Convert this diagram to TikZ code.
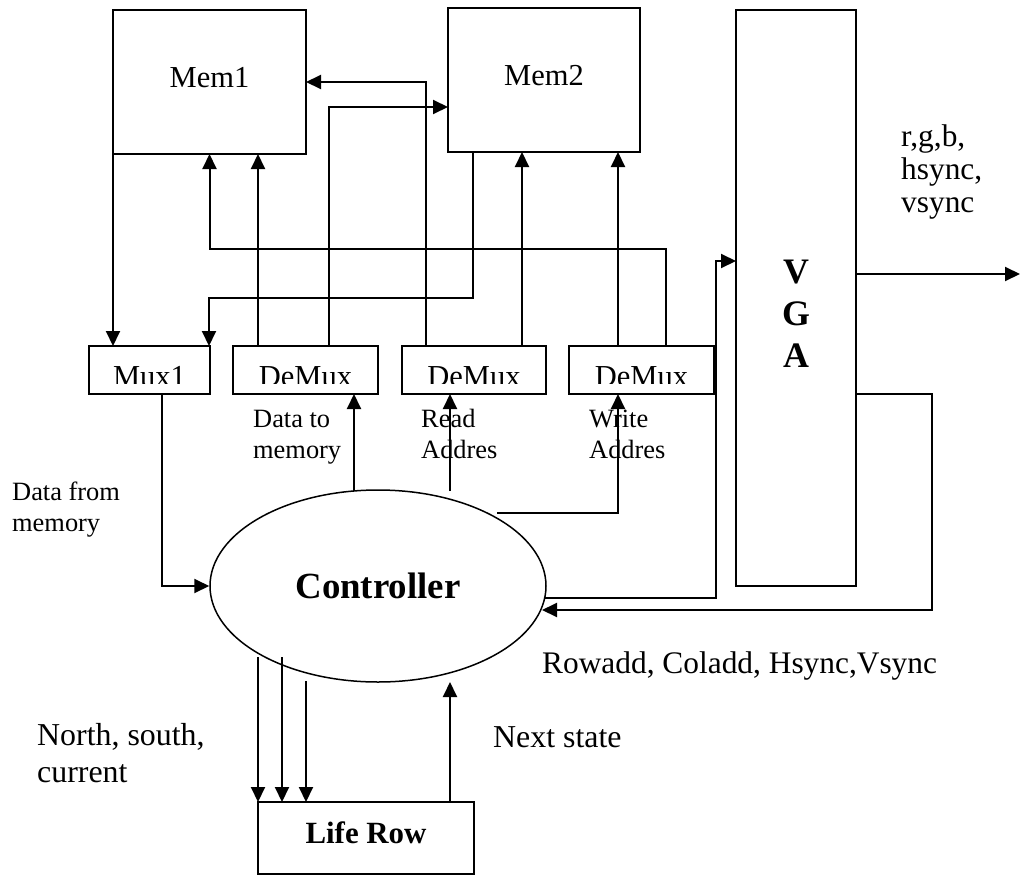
\documentclass[tikz,border=0pt]{standalone}
\usepackage{fontspec}
\setmainfont{Liberation Serif}
\usetikzlibrary{arrows.meta,shapes.geometric}
\begin{document}
\begin{tikzpicture}[x=1bp,y=-1bp,
 box/.style={draw,line width=2bp,rectangle,inner sep=0pt,outer sep=0pt},
 arr/.style={-{Triangle[length=15bp,width=14bp]}},
 wire/.style={line width=2bp},
 lbl/.style={inner sep=0pt,anchor=base west,font=\fontsize{31.5}{31.5}\selectfont},
 slbl/.style={inner sep=0pt,anchor=base west,font=\fontsize{26.5}{26.5}\selectfont},
 blbl/.style={inner sep=0pt,anchor=base,font=\fontsize{30.6}{30.6}\selectfont},
 bold/.style={inner sep=0pt,anchor=base,font=\fontsize{#1}{#1}\selectfont\bfseries},
]
\useasboundingbox (0,0) rectangle (1021,878);

% boxes
\node[box,minimum width=193bp,minimum height=144bp] (mem1) at (209.5,82) {};
\node[box,minimum width=192bp,minimum height=144bp] (mem2) at (544,80) {};
\node[box,minimum width=120bp,minimum height=576bp] (vga) at (796,298) {};
\node[box,minimum width=121bp,minimum height=48bp] (mux1) at (149.5,370) {};
\node[box,minimum width=145bp,minimum height=48bp] (dma) at (305.5,370) {};
\node[box,minimum width=144bp,minimum height=48bp] (dmb) at (474,370) {};
\node[box,minimum width=145bp,minimum height=48bp] (dmc) at (641.5,370) {};
\node[box,minimum width=216bp,minimum height=72bp] (life) at (366,838) {};
\node[draw,ellipse,line width=1.5bp,inner sep=0pt,minimum width=336bp,minimum height=192bp] (ctrl) at (378,586) {};

% box texts
\node[blbl] (tmem1) at (209.5,87) {Mem1};
\node[blbl] (tmem2) at (544,85) {Mem2};
\begin{scope}
\clip (80,340) rectangle (720,383.5);
\node[blbl] (tmux) at (149.5,386) {Mux1};
\node[blbl] (tdma) at (305.5,386) {DeMux};
\node[blbl] (tdmb) at (474,386) {DeMux};
\node[blbl] (tdmc) at (641.5,386) {DeMux};
\end{scope}
\node[bold=36] (tv) at (796,283) {V};
\node[bold=36] (tg) at (796,325) {G};
\node[bold=36] (ta) at (796,367) {A};
\node[bold=37] (tctrl) at (378,598) {Controller};
\node[bold=31] (tlife) at (366,843) {Life Row};

% connectors between memories and mux/demux
\draw[wire,arr] (mem1.south west) -- (mem1.south west |- mux1.north);
\draw[wire,arr] (666,0 |- dmc.north) |- (209.5,249) -- (mem1.south);
\draw[wire,arr] (258,0 |- dma.north) -- (258,0 |- mem1.south);
\draw[wire,arr] (473,0 |- mem2.south) |- (209,298) -- (209,0 |- mux1.north);
\draw[wire,arr] (329,0 |- dma.north) |- (mem2.west |- 0,107);
\draw[wire,arr] (426,0 |- dmb.north) |- (mem1.east);
\draw[wire,arr] (522,0 |- dmb.north) -- (522,0 |- mem2.south);
\draw[wire,arr] (618,0 |- dmc.north) -- (618,0 |- mem2.south);

% controller connections
\draw[wire,arr] (162,0 |- mux1.south) |- (ctrl.west);
\coordinate (cA) at (354,491);
\coordinate (cB) at (450,491);
\coordinate (cC) at (497,513);
\coordinate (cD) at (545,598);
\coordinate (cE) at (542,610);
\draw[wire,arr] (cA) -- (cA |- dma.south);
\draw[wire,arr] (cB) -- (cB |- dmb.south);
\draw[wire,arr] (cC) -| (618,0 |- dmc.south);
\draw[wire,arr] (cD) -| (716,261) -- (vga.west |- 0,261);
\draw[wire,arr] (vga.east |- 0,394) -| (932,610) -- (cE);
\coordinate (out) at (1020,274);
\draw[wire,arr] (vga.east |- out) -- (out);

% life row
\draw[wire,arr] (258,657) -- (258,0 |- life.north);
\draw[wire,arr] (282,657) -- (282,0 |- life.north);
\draw[wire,arr] (306,681) -- (306,0 |- life.north);
\draw[wire,arr] (450,0 |- life.north) -- (450,682);

% labels
\node[lbl] (l1) at (901,146) {r,g,b,};
\node[lbl] (l2) at (901,179) {hsync,};
\node[lbl] (l3) at (901,212) {vsync};
\node[slbl] (l4) at (253,427) {Data to};
\node[slbl] (l5) at (253,458) {memory};
\node[slbl] (l6) at (421,427) {Read};
\node[slbl] (l7) at (421,458) {Addres};
\node[slbl] (l8) at (589,427) {Write};
\node[slbl] (l9) at (589,458) {Addres};
\node[slbl] (l10) at (12,500) {Data from};
\node[slbl] (l11) at (12,531) {memory};
\node[lbl] (l12) at (542,673) {Rowadd, Coladd, Hsync,Vsync};
\node[lbl,font=\fontsize{32}{32}\selectfont] (l13) at (493,747) {Next state};
\node[lbl,font=\fontsize{32}{32}\selectfont] (l14) at (37,745) {North, south,};
\node[lbl,font=\fontsize{32}{32}\selectfont] (l15) at (37,782) {current};
\end{tikzpicture}
\end{document}
